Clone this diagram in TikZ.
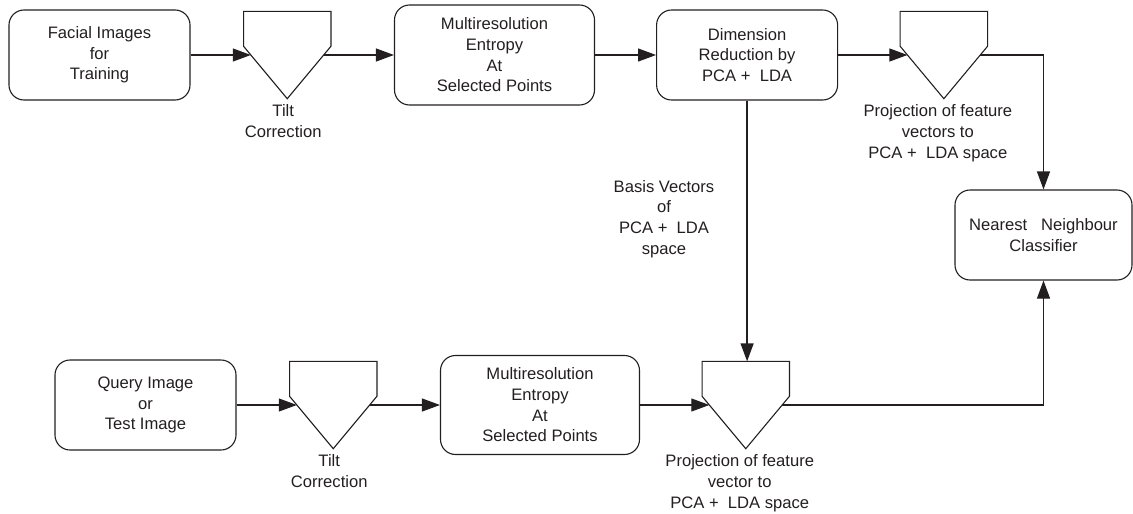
\documentclass[tikz,border=0pt]{standalone}
\usepackage{fontspec}
\setmainfont{Liberation Sans}
\usetikzlibrary{positioning,calc,arrows.meta}
\definecolor{Ink}{RGB}{35,31,32}

\begin{document}
\begin{tikzpicture}[x=1pt,y=-1pt,Ink,
    every node/.style={font=\fontsize{16.6pt}{20.7pt}\selectfont,text=Ink},
    box/.style={rectangle,draw,line width=1.1pt,rounded corners=15pt,
                minimum width=181pt,minimum height=90pt,align=center,inner sep=0pt},
    pent/.style={rectangle,minimum width=87pt,minimum height=87pt,inner sep=0pt},
    arrow/.style={-{Triangle[length=18pt,width=13pt]},line width=1.1pt},
    subtitle/.style={align=center,inner sep=0pt}
]
\useasboundingbox (0,0) rectangle (1133,514);

% Training row
\node[box] (train) at (99.5,55) {Facial Images\\for\\Training};
\node[pent,right=53pt of train] (tilt1) {};
\node[subtitle,below=6pt of tilt1.south,xshift=-4pt] (sub1) {Tilt\\Correction};
\node[box,minimum width=200pt,minimum height=100pt,right=63pt of tilt1] (multi1) {Multiresolution\\Entropy\\At\\Selected Points};
\node[box,right=61pt of multi1] (reduce) {Dimension\\Reduction by\\PCA +\ \ LDA};
\node[pent,right=62pt of reduce] (proj1) {};
\node[subtitle,below=6pt of proj1.south,xshift=-6pt] (sub2) {Projection of feature\\vectors to\\PCA +\ \ LDA space};

% Classifier
\node[box,minimum width=177pt] (nn) at (1043.5,235) {Nearest\ \ \ Neighbour\\Classifier};

% Basis vectors label
\node[subtitle] (basis) at (664,219) {Basis Vectors\\of\\PCA +\ \ LDA\\space};

% Query row
\node[box] (query) at (145.5,405) {Query Image\\or\\Test Image};
\node[pent,right=53pt of query] (tilt2) {};
\node[subtitle,below=6pt of tilt2.south,xshift=-4pt] (sub3) {Tilt\\Correction};
\node[box,minimum width=199pt,minimum height=99pt,right=63pt of tilt2] (multi2) {Multiresolution\\Entropy\\At\\Selected Points};
\node[pent,right=62pt of multi2] (proj2) {};
\node[subtitle,below=6pt of proj2.south,xshift=-6pt] (sub4) {Projection of feature\\vector to\\PCA +\ \ LDA space};

% Pentagon outlines
\foreach \p in {tilt1,proj1,tilt2,proj2}
  \draw[line width=1.1pt] (\p.north west) -- (\p.north east)
    -- ($(\p.north east)!0.4!(\p.south east)$) -- (\p.south)
    -- ($(\p.north west)!0.4!(\p.south west)$) -- cycle;

% Arrows connecting stages
\draw[arrow] (train.east) -- ([xshift=7.25pt]tilt1.west);
\draw[arrow] ([xshift=-7.25pt]tilt1.east) -- (multi1.west);
\draw[arrow] (multi1.east) -- (reduce.west);
\draw[arrow] (reduce.east) -- ([xshift=7.25pt]proj1.west);
\draw[arrow] ([xshift=-7.25pt]proj1.east) -| (nn.north);
\draw[arrow,line width=1.4pt] (reduce.south) -- (reduce.south |- proj2.north);
\draw[arrow] (query.east) -- ([xshift=7.25pt]tilt2.west);
\draw[arrow] ([xshift=-7.25pt]tilt2.east) -- (multi2.west);
\draw[arrow] (multi2.east) -- ([xshift=7.25pt]proj2.west);
\draw[arrow] ([xshift=-7.25pt]proj2.east) -| (nn.south);

\end{tikzpicture}
\end{document}
